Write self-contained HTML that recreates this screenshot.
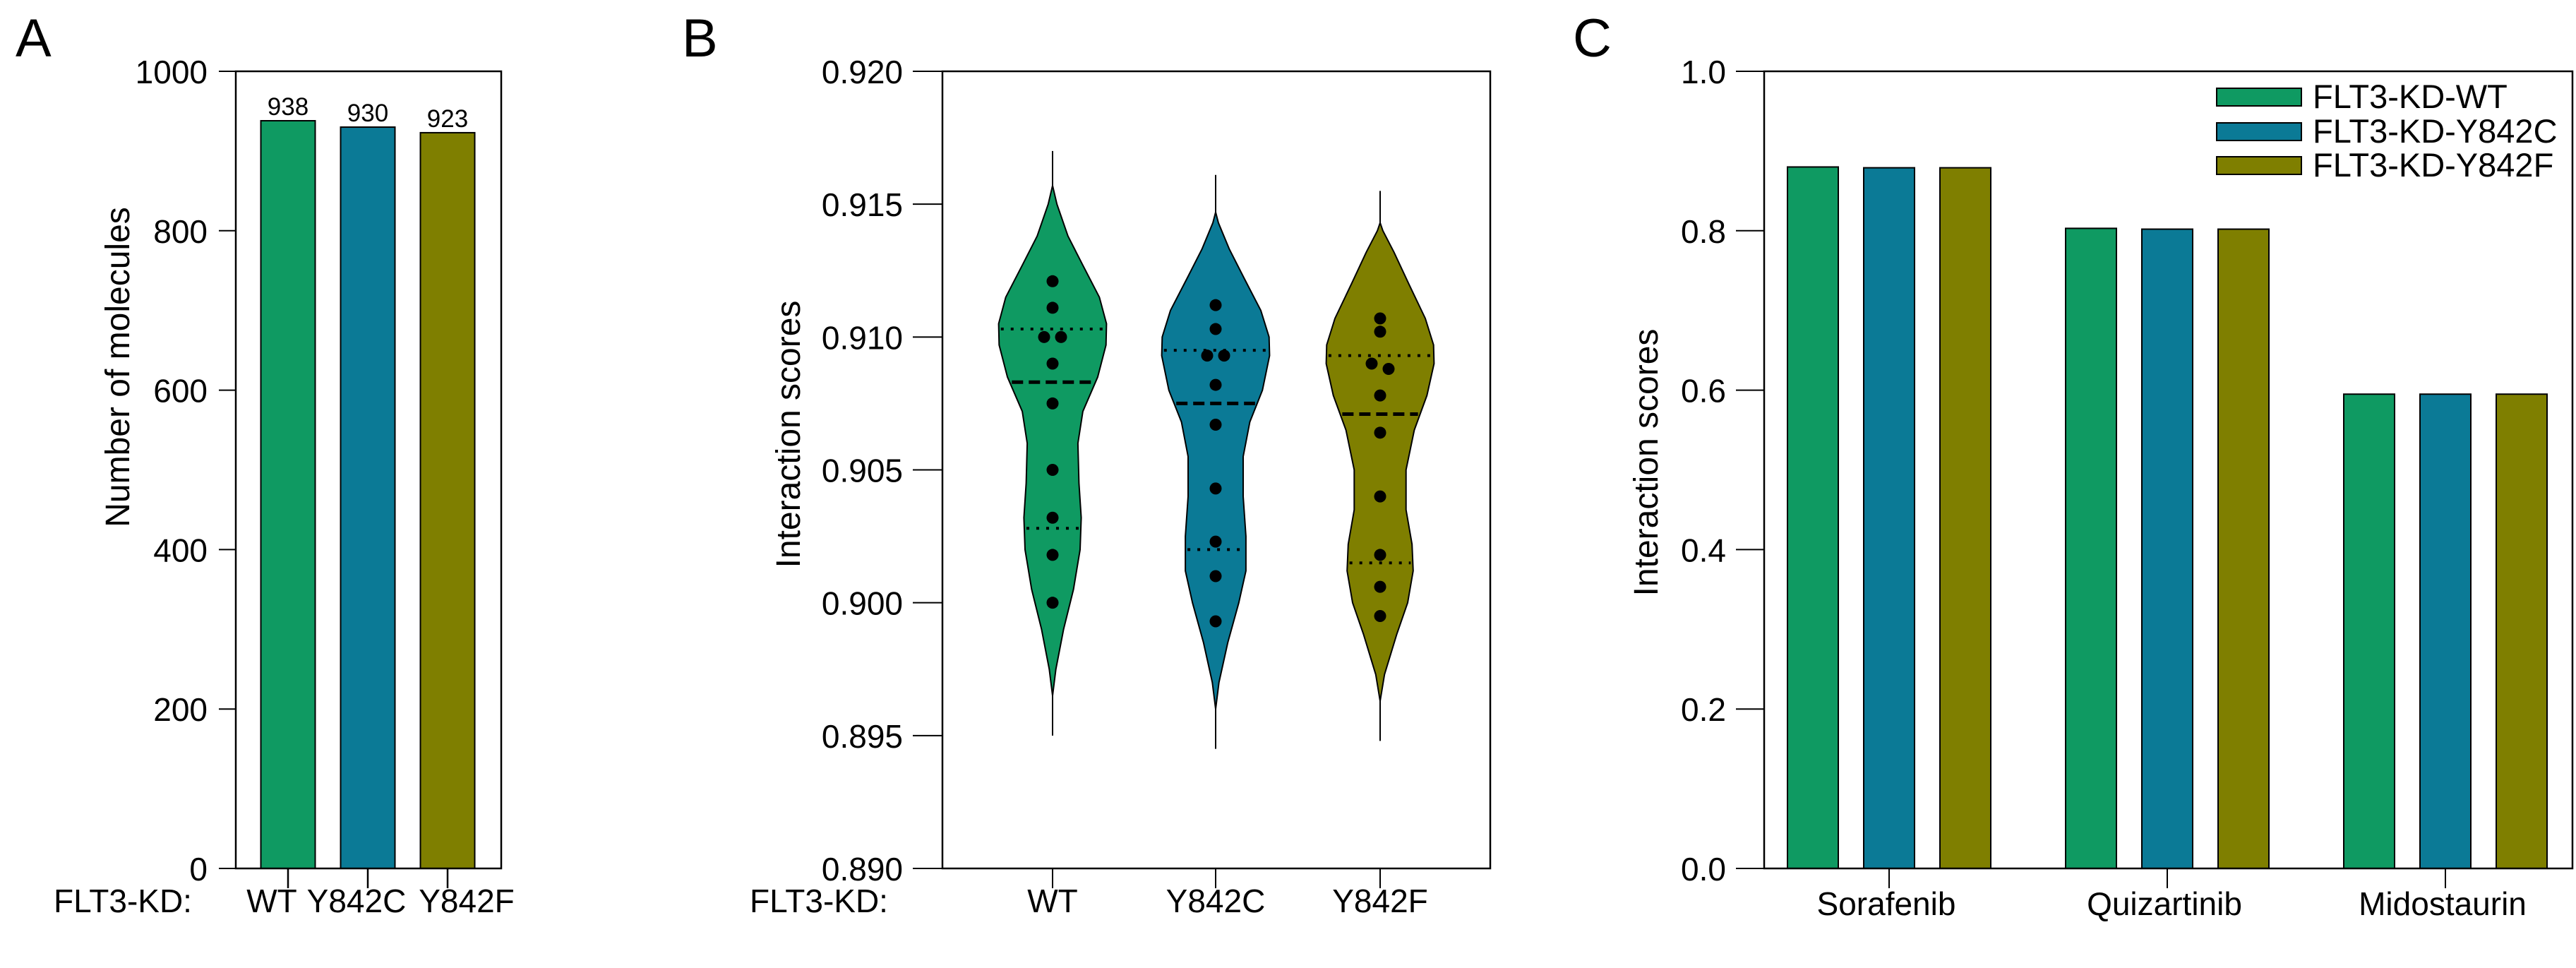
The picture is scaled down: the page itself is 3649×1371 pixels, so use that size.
<!DOCTYPE html>
<html><head><meta charset="utf-8"><style>
html,body{margin:0;padding:0;background:#fff;}
svg{display:block;font-family:"Liberation Sans",Arial,sans-serif;}
</style></head><body>
<svg id="fig" width="3649" height="1371" viewBox="0 0 3649 1371" xmlns="http://www.w3.org/2000/svg">
<g id="pA"></g>
<g id="pB"></g>
<g id="pC"></g>
</svg>
<script>
// ---- data ----
const colors = ["#0f9a62", "#0b7a96", "#7f7f00"];
const aCats = ["WT", "Y842C", "Y842F"];
const aVals = [938, 930, 923];
const aTicks = [0, 200, 400, 600, 800, 1000];

const bCats = ["WT", "Y842C", "Y842F"];
const bTicks = [0.890, 0.895, 0.900, 0.905, 0.910, 0.915, 0.920];
const bPointsWT = [0.9121, 0.9111, 0.9100, 0.9100, 0.9090, 0.9075, 0.9050, 0.9032, 0.9018, 0.9000];
const bPointsC = [0.9112, 0.9103, 0.9093, 0.9093, 0.9082, 0.9067, 0.9043, 0.9023, 0.9010, 0.8993];
const bPointsF = [0.9107, 0.9102, 0.9090, 0.9088, 0.9078, 0.9064, 0.9040, 0.9018, 0.9006, 0.8995];
const bMedian = [0.9083, 0.9075, 0.9071];
const bQ1 = [0.9028, 0.9020, 0.9015];
const bQ3 = [0.9103, 0.9095, 0.9093];
const bMin = [0.8950, 0.8945, 0.8948];
const bMax = [0.9170, 0.9161, 0.9155];
const bDensWT = [[0.8965,0],[0.8975,0.06],[0.8990,0.2],[0.9005,0.38],[0.9020,0.5],[0.9032,0.52],[0.9045,0.48],[0.9060,0.46],[0.9072,0.55],[0.9085,0.82],[0.9097,0.97],[0.9105,0.98],[0.9115,0.85],[0.9127,0.55],[0.9138,0.28],[0.9150,0.08],[0.9157,0]];
const bDensC = [[0.8960,0],[0.8970,0.06],[0.8985,0.22],[0.9000,0.42],[0.9012,0.55],[0.9025,0.55],[0.9040,0.5],[0.9055,0.5],[0.9068,0.62],[0.9080,0.85],[0.9093,0.98],[0.9100,0.97],[0.9110,0.82],[0.9122,0.52],[0.9133,0.25],[0.9143,0.05],[0.9147,0]];
const bDensF = [[0.8963,0],[0.8973,0.08],[0.8988,0.3],[0.9000,0.5],[0.9012,0.6],[0.9022,0.58],[0.9035,0.47],[0.9050,0.47],[0.9065,0.62],[0.9078,0.85],[0.9090,0.98],[0.9097,0.97],[0.9107,0.82],[0.9120,0.52],[0.9132,0.25],[0.9140,0.05],[0.9143,0]];

const cCats = ["Sorafenib", "Quizartinib", "Midostaurin"];
const cSeries = ["FLT3-KD-WT", "FLT3-KD-Y842C", "FLT3-KD-Y842F"];
const cWT = [0.880, 0.803, 0.595];
const cY842C = [0.879, 0.802, 0.595];
const cY842F = [0.879, 0.802, 0.595];
const cTicks = [0.0, 0.2, 0.4, 0.6, 0.8, 1.0];

// ---- helpers ----
const NS = "http://www.w3.org/2000/svg";
const TOP = 101, BOT = 1230, TICKB = 1258, LABY = 1292;
function mk(parent, tag, attrs, text) {
  const e = document.createElementNS(NS, tag);
  for (const k in attrs) e.setAttribute(k, attrs[k]);
  if (text !== undefined) e.textContent = text;
  parent.appendChild(e);
  return e;
}

// ---- Panel A ----
(function(){
  const g = document.getElementById('pA');
  const L = 334, R = 710, T = TOP, B = BOT;
  const y = v => B - (v - 0) / 1000 * (B - T);
  const xc = i => 408 + i * 113;
  const bw = 77;
  let t = mk(g, 'text', {x: 22, y: 80, 'font-size': 76}, 'A');
   
  aVals.forEach((v, i) => {
    let r = mk(g, 'rect', {x: xc(i) - bw/2, y: y(v), width: bw, height: B - y(v), fill: colors[i], stroke: '#000', 'stroke-width': 2});
     
    let l = mk(g, 'text', {x: xc(i), y: y(v) - 8, 'font-size': 35, 'text-anchor': 'middle'}, String(v));
     
    let tk = mk(g, 'line', {x1: xc(i), x2: xc(i), y1: B, y2: TICKB, stroke: '#000', 'stroke-width': 2.5});
     
  });
  let cl = [385, 505, 661];
  aCats.forEach((c, i) => {
    let l = mk(g, 'text', {x: cl[i], y: LABY, 'font-size': 46, 'text-anchor': 'middle'}, c);
     
  });
  let fl = mk(g, 'text', {x: 76, y: LABY, 'font-size': 46}, 'FLT3-KD:');
   
  aTicks.forEach(v => {
    let tk = mk(g, 'line', {x1: 310, x2: L, y1: y(v), y2: y(v), stroke: '#000', 'stroke-width': 2});
     
    let l = mk(g, 'text', {x: 294, y: y(v) + 17, 'font-size': 46, 'text-anchor': 'end'}, String(v));
     
  });
  let fr = mk(g, 'rect', {x: L, y: T, width: R - L, height: B - T, fill: 'none', stroke: '#000', 'stroke-width': 2.5});
   
  let yt = mk(g, 'text', {x: 0, y: 0, 'font-size': 48, 'text-anchor': 'middle', transform: 'translate(183,520) rotate(-90)'}, 'Number of molecules');
   
})();

// ---- Panel B ----
(function(){
  const g = document.getElementById('pB');
  const L = 1335, R = 2111, T = TOP, B = BOT;
  const y = v => B - (v - 0.890) / 0.030 * (B - T);
  const xs = [1491, 1722, 1955];
  const maxHW = 78;
  const pts = [bPointsWT, bPointsC, bPointsF];
  const dens = [bDensWT, bDensC, bDensF];
  let t = mk(g, 'text', {x: 966, y: 80, 'font-size': 76}, 'B');
   
  bCats.forEach((c, i) => {
    const cx = xs[i];
    let w = mk(g, 'line', {x1: cx, x2: cx, y1: y(bMin[i]), y2: y(bMax[i]), stroke: '#000', 'stroke-width': 2});
     
    const d = dens[i];
    let right = d.map(p => (cx + p[1] * maxHW).toFixed(1) + ',' + y(p[0]).toFixed(1));
    let left = d.slice().reverse().map(p => (cx - p[1] * maxHW).toFixed(1) + ',' + y(p[0]).toFixed(1));
    let vp = mk(g, 'polygon', {points: right.concat(left).join(' '), fill: colors[i], stroke: '#000', 'stroke-width': 2, 'stroke-linejoin': 'round'});
     
    const hw = v => { for (let k = 0; k < d.length - 1; k++) { if (v >= d[k][0] && v <= d[k+1][0]) { const f = (v - d[k][0]) / (d[k+1][0] - d[k][0]); return (d[k][1] + f * (d[k+1][1] - d[k][1])) * maxHW; } } return 0; };
    [[bQ3[i], '4,10', 'q3'], [bMedian[i], '16,8', 'median'], [bQ1[i], '4,10', 'q1']].forEach(q => {
      const h = hw(q[0]) - 3;
      let ln = mk(g, 'line', {x1: cx - h, x2: cx + h, y1: y(q[0]), y2: y(q[0]), stroke: '#000', 'stroke-width': q[2] === 'median' ? 5 : 4, 'stroke-dasharray': q[1]});
       
    });
    const p = pts[i];
    p.forEach((v, k) => {
      let dx = 0;
      if (k > 0 && Math.abs(p[k-1] - v) < 0.0003) dx = 12;
      if (k < p.length - 1 && Math.abs(p[k+1] - v) < 0.0003) dx = -12;
      let dot = mk(g, 'circle', {cx: cx + dx, cy: y(v), r: 8.5, fill: '#000'});
       
    });
    let tk = mk(g, 'line', {x1: cx, x2: cx, y1: B, y2: TICKB, stroke: '#000', 'stroke-width': 2});
     
    let l = mk(g, 'text', {x: cx, y: LABY, 'font-size': 46, 'text-anchor': 'middle'}, c);
     
  });
  let fl = mk(g, 'text', {x: 1062, y: LABY, 'font-size': 46}, 'FLT3-KD:');
   
  bTicks.forEach(v => {
    let tk = mk(g, 'line', {x1: 1293, x2: L, y1: y(v), y2: y(v), stroke: '#000', 'stroke-width': 2});
     
    let l = mk(g, 'text', {x: 1279, y: y(v) + 17, 'font-size': 46, 'text-anchor': 'end'}, v.toFixed(3));
     
  });
  let fr = mk(g, 'rect', {x: L, y: T, width: R - L, height: B - T, fill: 'none', stroke: '#000', 'stroke-width': 2.5});
   
  let yt = mk(g, 'text', {x: 0, y: 0, 'font-size': 48, 'text-anchor': 'middle', transform: 'translate(1133,615) rotate(-90)'}, 'Interaction scores');
   
})();

// ---- Panel C ----
(function(){
  const g = document.getElementById('pC');
  const L = 2499, R = 3644, T = TOP, B = BOT;
  const y = v => B - v / 1.0 * (B - T);
  const gx = [2676, 3070, 3464];
  const bw = 72, step = 108;
  const series = [cWT, cY842C, cY842F];
  let t = mk(g, 'text', {x: 2228, y: 80, 'font-size': 76}, 'C');
   
  cCats.forEach((c, j) => {
    series.forEach((s, i) => {
      const x = gx[j] + (i - 1) * step - bw / 2;
      let r = mk(g, 'rect', {x: x, y: y(s[j]), width: bw, height: B - y(s[j]), fill: colors[i], stroke: '#000', 'stroke-width': 2});
       
    });
    let tk = mk(g, 'line', {x1: gx[j], x2: gx[j], y1: B, y2: TICKB, stroke: '#000', 'stroke-width': 2});
     
    let l = mk(g, 'text', {x: gx[j] - 4, y: LABY + 4, 'font-size': 46, 'text-anchor': 'middle'}, c);
     
  });
  cTicks.forEach(v => {
    let tk = mk(g, 'line', {x1: 2459, x2: L, y1: y(v), y2: y(v), stroke: '#000', 'stroke-width': 2});
     
    let l = mk(g, 'text', {x: 2445, y: y(v) + 17, 'font-size': 46, 'text-anchor': 'end'}, v.toFixed(1));
     
  });
  let fr = mk(g, 'rect', {x: L, y: T, width: R - L, height: B - T, fill: 'none', stroke: '#000', 'stroke-width': 2.5});
   
  let yt = mk(g, 'text', {x: 0, y: 0, 'font-size': 48, 'text-anchor': 'middle', transform: 'translate(2348,655) rotate(-90)'}, 'Interaction scores');
   
  const ly = [125, 174, 222];
  cSeries.forEach((s, i) => {
    let sw = mk(g, 'rect', {x: 3140, y: ly[i], width: 120, height: 25, fill: colors[i], stroke: '#000', 'stroke-width': 2});
     
    let l = mk(g, 'text', {x: 3276, y: ly[i] + 28, 'font-size': 47}, s);
     
  });
})();
</script>
</body></html>
